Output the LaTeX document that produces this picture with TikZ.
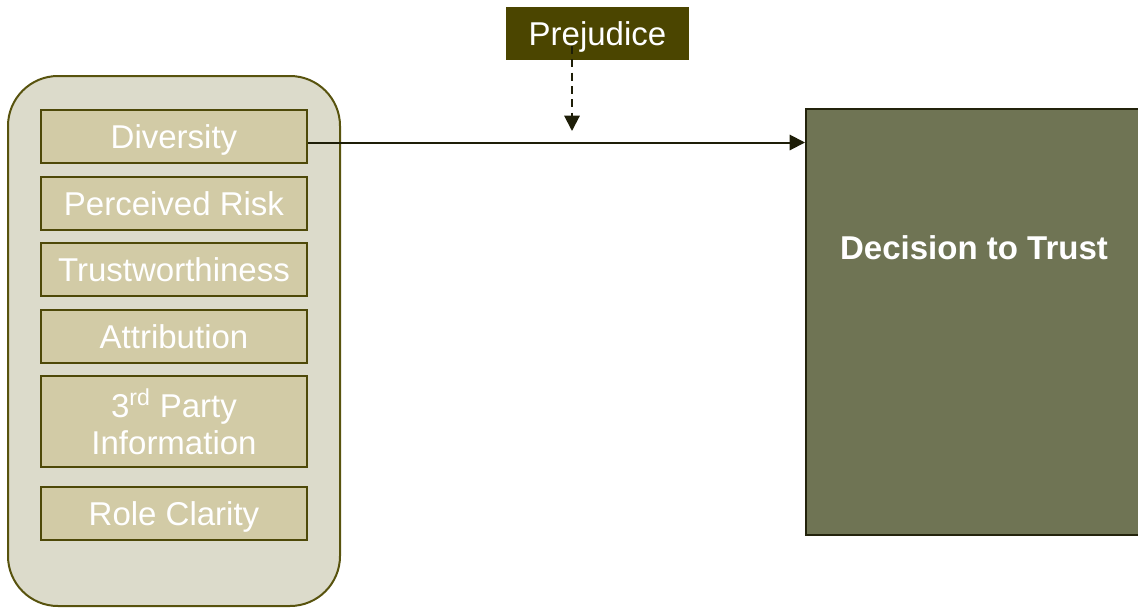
\documentclass[tikz,border=0pt]{standalone}
\usepackage{fontspec}
\setmainfont{Liberation Sans}
\usetikzlibrary{arrows.meta}
\definecolor{outerfill}{HTML}{DCDBCB}
\definecolor{outerdraw}{HTML}{58530E}
\definecolor{innerfill}{HTML}{D2CBA6}
\definecolor{innerdraw}{HTML}{4E4908}
\definecolor{prejfill}{HTML}{4B4500}
\definecolor{decfill}{HTML}{6F7454}
\definecolor{decdraw}{HTML}{23230C}
\definecolor{arrowcol}{HTML}{1E1E08}
\tikzset{
  txt/.style={font=\fontsize{24.75}{27.75}\selectfont, text=white, align=center},
  itembox/.style={txt, draw=innerdraw, fill=innerfill, line width=1.5pt, inner sep=0pt,
    minimum width=199.5pt, minimum height=39.75pt, text depth=-1.5pt},
  conn/.style={draw=arrowcol, line width=1.5pt, -{Triangle[length=11.5pt,width=11.5pt]}},
}
\begin{document}
\begin{tikzpicture}[x=0.75pt,y=-0.75pt]
\useasboundingbox (0,0) rectangle (1138,607);
\begin{scope}
\clip (0,0) rectangle (1138,607);
\node[draw=outerdraw, fill=outerfill, line width=1.5pt, rounded corners=37.5pt,
  minimum width=249pt, minimum height=397.5pt, inner sep=0pt] (outer) at (174,341) {};
\node[itembox] (div) at (174,136.5) {Diversity};
\node[itembox] (risk) at (174,203.5) {Perceived Risk};
\node[itembox] (tw) at (174,269.5) {Trustworthiness};
\node[itembox] (attr) at (174,336.5) {Attribution};
\node[itembox, minimum height=68.25pt] (third) at (174,421.5) {3\textsuperscript{rd} Party\\Information};
\node[itembox] (role) at (174,513.5) {Role Clarity};
\node[txt, fill=prejfill, inner sep=0pt, minimum width=137.25pt, minimum height=39.75pt, text depth=-1.5pt] (prej) at (597.5,33.5) {Prejudice};
\node[draw=decdraw, fill=decfill, line width=1.5pt, inner sep=0pt,
  minimum width=252pt, minimum height=319.5pt,
  label={[txt, font=\fontsize{24.75}{27.75}\selectfont\bfseries, anchor=center, yshift=-105pt]north:Decision to Trust}] (dec) at (974,322) {};
\coordinate (dstart) at (572,46);
\coordinate (dend) at (572,131);
\draw[conn, dash pattern=on 6pt off 4pt] (dstart) -- (dend);
\draw[conn] ([yshift=-4.5pt]div.east) -- ([yshift=-4.5pt]div.east -| dec.west);
\end{scope}
\end{tikzpicture}
\end{document}
